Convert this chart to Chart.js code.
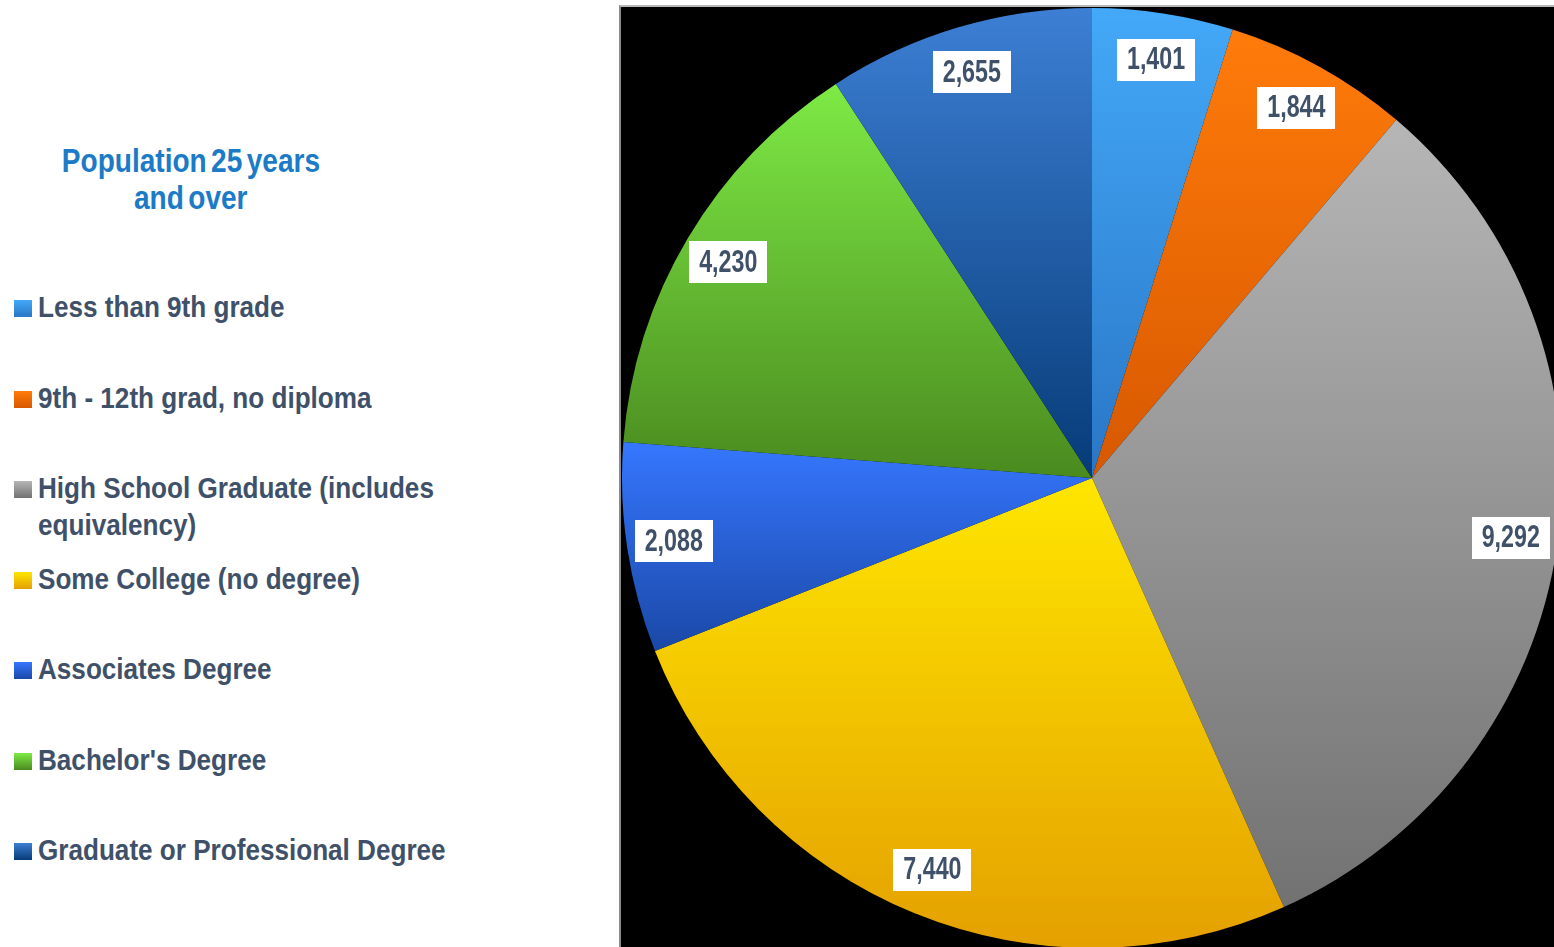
<!DOCTYPE html>
<html lang="en">
<head>
    <meta charset="UTF-8">
    <title>Population 25 years and over</title>
    <script src="https://cdn.jsdelivr.net/npm/chart.js"></script>
    <style>
        body {
            margin: 0;
            width: 1554px;
            height: 947px;
            overflow: hidden;
            background: #fff;
            position: relative;
            font-family: 'Liberation Sans', Arial, sans-serif;
            font-weight: bold;
        }

        /* Title above the legend */
        .title {
            position: absolute;
            left: 0;
            top: 142px;
            width: 382px;
            text-align: center;
            color: #1b7bc6;
            font-size: 33px;
            line-height: 37px;
        }

        .title span {
            display: inline-block;
            transform: scaleX(0.85);
            transform-origin: center;
            word-spacing: -4px;
            white-space: nowrap;
        }

        /* Legend list */
        .legend {
            position: absolute;
            left: 14px;
            top: 289px;
            margin: 0;
            padding: 0;
            list-style: none;
        }

        .legend li {
            position: relative;
            height: 90.5px;
            padding-left: 24px;
            color: #3f5169;
            font-size: 29px;
            line-height: 37px;
            white-space: nowrap;
        }

        .legend .name {
            display: inline-block;
            width: 480px;
            white-space: normal;
            transform: scaleX(0.9);
            transform-origin: left top;
        }

        .legend .swatch {
            position: absolute;
            left: 0;
            top: 11px;
            width: 18px;
            height: 17px;
        }

        /* Black plot panel */
        .panel {
            position: absolute;
            left: 619px;
            top: 5px;
            right: 0;
            bottom: 0;
            background: #000;
            border-top: 2px solid #b8b8b8;
            border-left: 2px solid #8a8a8a;
        }

        .chart-box {
            position: absolute;
            left: 622px;
            top: 8px;
            width: 940px;
            height: 940px;
        }
    </style>
</head>
<body>
    <div class="title"><span>Population 25 years</span><br><span>and over</span></div>
    <ul class="legend" id="legend"></ul>

    <div class="panel"></div>
    <div class="chart-box">
        <canvas id="eduChart"></canvas>
    </div>

    <script>
        // Educational attainment, population 25 years and over
        const categories = [
            "Less than 9th grade",
            "9th - 12th grad, no diploma",
            "High School Graduate (includes equivalency)",
            "Some College (no degree)",
            "Associates Degree",
            "Bachelor's Degree",
            "Graduate or Professional Degree"
        ];
        const counts = [1401, 1844, 9292, 7440, 2088, 4230, 2655];

        // slice fills fade from a light top to a darker bottom
        const topColors = ["#43a9f8", "#ff7b0a", "#b6b6b6", "#ffe600", "#3677ff", "#7eea45", "#3d7fd4"];
        const bottomColors = ["#2a76c6", "#d75800", "#727272", "#e4a000", "#1a48a6", "#4a8a1f", "#063b78"];

        // build the legend
        const legendEl = document.getElementById('legend');
        categories.forEach((name, i) => {
            const li = document.createElement('li');
            const sw = document.createElement('span');
            sw.className = 'swatch';
            sw.style.background = `linear-gradient(${topColors[i]}, ${bottomColors[i]})`;
            const txt = document.createElement('span');
            txt.className = 'name';
            txt.textContent = name;
            li.appendChild(sw);
            li.appendChild(txt);
            legendEl.appendChild(li);
        });

        const total = counts.reduce((a, b) => a + b, 0);

        // vertical gradient spanning one slice's own height
        function sliceFill(context) {
            const i = context.dataIndex;
            const chart = context.chart;
            const area = chart.chartArea;
            if (!area) return topColors[i];
            const cx = (area.left + area.right) / 2;
            const cy = (area.top + area.bottom) / 2;
            const r = Math.min(area.width, area.height) / 2;
            let before = 0;
            for (let k = 0; k < i; k++) before += counts[k];
            const a0 = -Math.PI / 2 + before / total * Math.PI * 2;
            const a1 = a0 + counts[i] / total * Math.PI * 2;
            let minY = cy, maxY = cy;
            for (let s = 0; s <= 60; s++) {
                const y = cy + r * Math.sin(a0 + (a1 - a0) * s / 60);
                minY = Math.min(minY, y);
                maxY = Math.max(maxY, y);
            }
            const g = chart.ctx.createLinearGradient(0, minY, 0, maxY);
            g.addColorStop(0, topColors[i]);
            g.addColorStop(1, bottomColors[i]);
            return g;
        }

        // white value boxes near the outer edge of each slice
        const squeeze = 0.75;
        const valueBoxes = {
            id: 'valueBoxes',
            afterDatasetsDraw(chart) {
                const ctx = chart.ctx;
                const meta = chart.getDatasetMeta(0);
                ctx.save();
                ctx.font = "bold 31px 'Liberation Sans', Arial, sans-serif";
                ctx.textAlign = 'center';
                ctx.textBaseline = 'middle';
                meta.data.forEach((arc, i) => {
                    const mid = (arc.startAngle + arc.endAngle) / 2;
                    const d = arc.outerRadius * 0.9;
                    const x = arc.x + Math.cos(mid) * d;
                    const y = arc.y + Math.sin(mid) * d;
                    const text = counts[i].toLocaleString('en-US');
                    const w = ctx.measureText(text).width * squeeze + 20;
                    const h = 42;
                    ctx.fillStyle = '#fff';
                    ctx.fillRect(Math.round(x - w / 2), Math.round(y - h / 2), Math.round(w), h);
                    ctx.save();
                    ctx.translate(x, y + 1);
                    ctx.scale(squeeze, 1);
                    ctx.fillStyle = '#3f5169';
                    ctx.fillText(text, 0, 0);
                    ctx.restore();
                });
                ctx.restore();
            }
        };

        new Chart(document.getElementById('eduChart'), {
            type: 'pie',
            data: {
                labels: categories,
                datasets: [{
                    data: counts,
                    backgroundColor: sliceFill,
                    borderWidth: 0,
                    hoverOffset: 0
                }]
            },
            options: {
                responsive: true,
                maintainAspectRatio: false,
                animation: false,
                layout: { padding: 0 },
                plugins: {
                    legend: { display: false },
                    tooltip: { enabled: false }
                }
            },
            plugins: [valueBoxes]
        });
    </script>
</body>
</html>
